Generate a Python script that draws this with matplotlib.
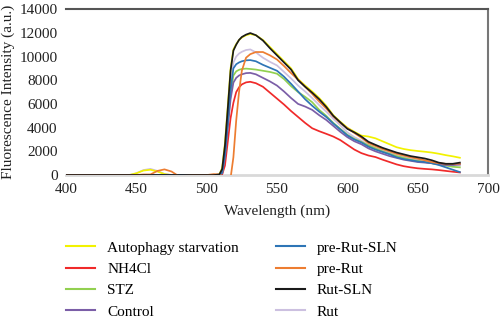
import matplotlib
matplotlib.use("Agg")
import matplotlib.pyplot as plt

plt.rcParams['font.family'] = ['Liberation Serif', 'DejaVu Serif']

wavelength = [400, 410, 420, 430, 440, 445, 450, 455, 460, 465, 470, 475, 480, 490, 500,
              505, 509, 511, 513, 515, 517, 519, 521, 523, 525, 528, 531, 535,
              540, 545, 550, 555, 560, 565, 570, 575, 580, 585, 590, 595, 600,
              605, 610, 615, 620, 625, 630, 635, 640, 645, 650, 655, 660, 665, 670, 675, 680]

autophagy = [0, 0, 0, 0, 0, 0, 150, 380, 450, 300, 80, 0, 0, 0, 0,
             0, 50, 600, 2700, 5800, 9000, 10600, 11050, 11400, 11600, 11800, 11900, 11800,
             11400, 10800, 10200, 9600, 9000, 8100, 7550, 7050, 6500, 5850, 5050, 4500, 4000,
             3650, 3330, 3250, 3100, 2850, 2600, 2350, 2200, 2100, 2030, 1970, 1900, 1800, 1680, 1580, 1460]
nh4cl = [0, 0, 0, 0, 0, 0, 0, 0, 0, 0, 0, 0, 0, 0, 0,
         0, 0, 50, 800, 2800, 4800, 6100, 7000, 7400, 7650, 7820, 7870, 7750,
         7450, 6950, 6450, 5950, 5400, 4900, 4400, 3950, 3700, 3480, 3250, 2950, 2550,
         2150, 1850, 1650, 1520, 1300, 1100, 900, 750, 650, 570, 520, 480, 420, 350, 280, 220]
stz = [0, 0, 0, 0, 0, 0, 0, 0, 0, 0, 0, 0, 0, 0, 0,
       0, 0, 200, 1700, 4300, 6800, 8400, 8750, 8880, 8950, 8980, 8950, 8900,
       8800, 8700, 8550, 8100, 7500, 7000, 6600, 6150, 5500, 5000, 4400, 3900, 3400,
       3050, 2800, 2500, 2250, 2000, 1800, 1600, 1450, 1300, 1200, 1100, 1000, 900, 800, 700, 650]
control = [0, 0, 0, 0, 0, 0, 0, 0, 0, 0, 0, 0, 0, 0, 0,
           0, 0, 150, 1500, 4000, 6400, 7800, 8200, 8400, 8500, 8600, 8620, 8500,
           8200, 7900, 7550, 7050, 6500, 6000, 5780, 5500, 5050, 4650, 4150, 3650, 3200,
           2850, 2600, 2250, 2000, 1800, 1600, 1450, 1300, 1200, 1100, 1050, 1000, 900, 850, 850, 900]
pre_rut_sln = [0, 0, 0, 0, 0, 0, 0, 0, 0, 0, 0, 0, 0, 0, 0,
               0, 0, 200, 1800, 4500, 7200, 9000, 9350, 9500, 9600, 9680, 9700, 9600,
               9300, 9050, 8800, 8300, 7700, 7050, 6400, 5850, 5350, 4900, 4350, 3850, 3350,
               3000, 2750, 2400, 2150, 1950, 1750, 1500, 1350, 1250, 1150, 1100, 1000, 850, 650, 450, 250]
pre_rut = [0, 0, 0, 0, 0, 0, 0, 50, 50, 350, 480, 300, -80, 0, 0,
           80, 50, -100, -250, -300, -250, 1500, 4600, 7000, 8800, 9900, 10200, 10380,
           10380, 10100, 9750, 9200, 8600, 8050, 7450, 6850, 6200, 5620, 4950, 4400, 3950,
           3550, 3150, 2700, 2450, 2200, 2000, 1800, 1650, 1500, 1380, 1250, 1100, 1000, 950, 950, 950]
rut_sln = [0, 0, 0, 0, 0, 0, 0, 0, 0, 0, 0, 0, 0, 0, 0,
           0, 50, 500, 2500, 5600, 8800, 10500, 11000, 11400, 11650, 11850, 11980, 11800,
           11350, 10700, 10100, 9500, 8900, 8000, 7450, 6950, 6400, 5750, 5000, 4450, 3900,
           3600, 3250, 2810, 2550, 2300, 2100, 1900, 1750, 1600, 1500, 1400, 1250, 1050, 950, 950, 1050]
rut = [0, 0, 0, 0, 0, 0, 150, 420, 520, 350, 100, 0, 0, 0, 0,
       -150, -200, 0, 1500, 4500, 7500, 9500, 10000, 10250, 10400, 10550, 10600, 10350,
       9900, 9550, 9250, 8700, 8150, 7550, 7050, 6500, 5900, 5350, 4750, 4200, 3600,
       3200, 2900, 2550, 2300, 2100, 1900, 1700, 1550, 1400, 1300, 1200, 1100, 1000, 900, 850, 800]

series = [
    ("Autophagy starvation", autophagy, "#f2f200", 3),
    ("NH4Cl", nh4cl, "#f02a2a", 4),
    ("STZ", stz, "#92d050", 4),
    ("Control", control, "#7b5ea7", 4),
    ("pre-Rut-SLN", pre_rut_sln, "#2e75b6", 5),
    ("pre-Rut", pre_rut, "#ed7d31", 5),
    ("Rut-SLN", rut_sln, "#1a1a1a", 6),
    ("Rut", rut, "#ccc0e0", 2),
]

fig = plt.figure(figsize=(5.0, 3.26), dpi=100)
ax = fig.add_axes([0.132, 0.463, 0.844, 0.509])

for label, vals, color, z in series:
    ax.plot(wavelength, vals, color=color, lw=1.25, label=label, zorder=z)

ax.set_xlim(400, 700)
ax.set_ylim(0, 14000)
ax.set_xticks([400, 450, 500, 550, 600, 650, 700])
ax.set_yticks(range(0, 14001, 2000))
ax.tick_params(length=0, labelsize=11, pad=6, colors="#222222")
ax.set_xlabel("Wavelength (nm)", fontsize=11, labelpad=6, color="#222222")
ax.set_ylabel("Fluorescence Intensity (a.u.)", fontsize=11, labelpad=3, color="#222222")

ax.spines['top'].set_color("#555555")
ax.spines['top'].set_linewidth(1.5)
ax.spines['right'].set_color("#777777")
ax.spines['right'].set_linewidth(1.5)
ax.spines['bottom'].set_color("#d9d9d9")
ax.spines['bottom'].set_linewidth(2)
ax.spines['left'].set_visible(False)

leg = fig.legend(loc="upper left", bbox_to_anchor=(0.12, 0.28), ncol=2, frameon=False,
                 fontsize=11, handlelength=1.9, handletextpad=0.8, columnspacing=2.4,
                 labelspacing=0.5, borderaxespad=0)
for line in leg.get_lines():
    line.set_linewidth(1.5)

fig.savefig("out.png", dpi=100)
